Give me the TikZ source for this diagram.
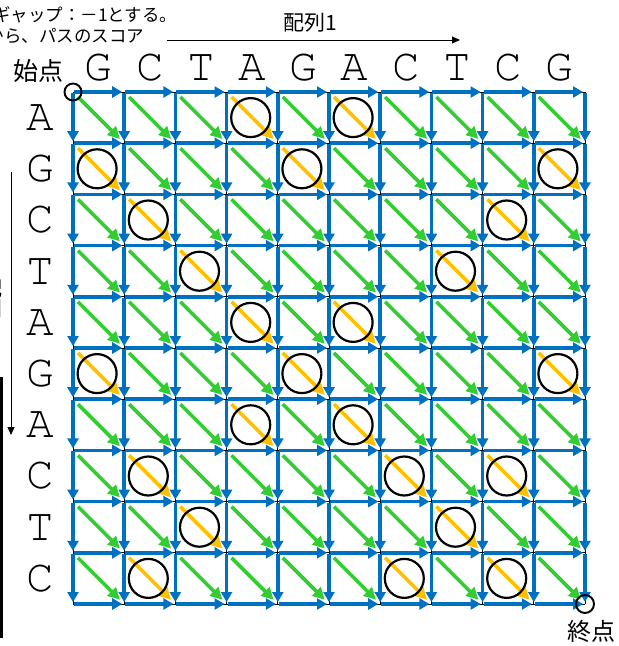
\documentclass[tikz,border=0pt]{standalone}
\usepackage{fontspec}
\setmainfont{Liberation Sans}
\newfontfamily\courierlike{TeX Gyre Cursor}
\newfontfamily\jp{Noto Sans CJK JP}
\usetikzlibrary{arrows.meta}
\definecolor{oblue}{RGB}{0,112,192}
\definecolor{ogreen}{RGB}{51,204,51}
\definecolor{ogold}{RGB}{255,192,0}
\tikzset{
  gridline/.style={black,line width=0.9pt},
  bluearrow/.style={oblue,line width=3.6pt,shorten <=1pt,shorten >=2pt,-{Triangle[length=10pt,width=11pt]}},
  diagarrow/.style={line width=3.6pt,shorten <=7pt,shorten >=6pt,-{Triangle[length=12pt,width=12pt]}},
  greenarrow/.style={diagarrow,ogreen},
  goldarrow/.style={diagarrow,ogold},
  matchcirc/.style={circle,draw=black,line width=2.2pt,minimum size=39pt,inner sep=0pt},
  endcirc/.style={circle,draw=black,line width=1.9pt,minimum size=17pt,inner sep=0pt},
  seqletter/.style={font=\courierlike\fontsize{46}{46}\selectfont,inner sep=0pt},
  jptext/.style={font=\jp\fontsize{#1}{#1}\selectfont,inner sep=0pt},
  thinarrow/.style={black,line width=0.9pt,-{Triangle[length=8pt,width=7pt]}}
}
\begin{document}
\begin{tikzpicture}[x=1pt,y=-1pt]
\useasboundingbox (0,0) rectangle (619,646);
\def\cs{51.2}
% grid points
\foreach \i in {0,...,10}{
  \foreach \j in {0,...,10}{
    \coordinate (n-\i-\j) at ({73+\i*\cs},{92+\j*\cs});
  }
}
% thin grid
\foreach \k in {0,...,10}{
  \draw[gridline] (n-\k-0) -- (n-\k-10);
  \draw[gridline] (n-0-\k) -- (n-10-\k);
}
% blue horizontal and vertical arrows
\foreach \i [evaluate=\i as \ip using int(\i+1)] in {0,...,9}{
  \foreach \j in {0,...,10}{
    \draw[bluearrow] (n-\i-\j) -- (n-\ip-\j);
    \draw[bluearrow] (n-\j-\i) -- (n-\j-\ip);
  }
}
% matches (column/row)
\foreach \c/\r in {4/1,6/1,1/2,5/2,10/2,2/3,9/3,3/4,8/4,4/5,6/5,1/6,5/6,10/6,4/7,6/7,2/8,7/8,9/8,3/9,8/9,2/10,7/10,9/10}{
  \expandafter\gdef\csname match-\c-\r\endcsname{1}
}
% diagonal arrows
\foreach \i [evaluate=\i as \im using int(\i-1)] in {1,...,10}{
  \foreach \j [evaluate=\j as \jm using int(\j-1)] in {1,...,10}{
    \ifcsname match-\i-\j\endcsname
      \draw[goldarrow] (n-\im-\jm) -- (n-\i-\j);
      \node[matchcirc] (c-\i-\j) at ({73+(\i-0.5)*\cs-1.5},{92+(\j-0.5)*\cs}) {};
    \else
      \draw[greenarrow] (n-\im-\jm) -- (n-\i-\j);
    \fi
  }
}
% sequence letters
\foreach \a [count=\i] in {G,C,T,A,G,A,C,T,C,G}{
  \node[seqletter] (top-\i) at ({73+(\i-0.5)*\cs},68) {\a};
}
\foreach \b [count=\j] in {A,G,C,T,A,G,A,C,T,C}{
  \node[seqletter] (left-\j) at (40,{92+(\j-0.5)*\cs}) {\b};
}
% start / end
\node[endcirc] (startc) at (n-0-0) {};
\node[endcirc,minimum size=18pt] (endc) at (n-10-10) {};
\node[jptext=25] (start) at (38,71) {始点};
\node[jptext=24] (goal) at (591,631) {終点};
% sequence 1 label and arrow
\node[jptext=21] (seq1) at (310,23) {配列1};
\coordinate (a1s) at (167,40);
\coordinate (a1e) at (460,40);
\draw[thinarrow] (a1s) -- (a1e);
% sequence 2 (cut off at left edge, as in the reference)
\node[jptext=21,align=center] (seq2) at (-8,309) {配\\列\\2};
\coordinate (a2s) at (11,172);
\coordinate (a2e) at (11,435);
\draw[thinarrow] (a2s) -- (a2e);
\coordinate (bar1) at (1.5,377);
\coordinate (bar2) at (1.5,638);
\draw[black,line width=3pt] (bar1) -- (bar2);
% top-left note (cut off at left edge)
\node[jptext=17.5,anchor=west] (note1) at (-7,15) {ギャップ：－1とする。};
\node[jptext=17.5,anchor=west] (note2) at (-13.5,36) {から、パスのスコア};
\end{tikzpicture}
\end{document}
